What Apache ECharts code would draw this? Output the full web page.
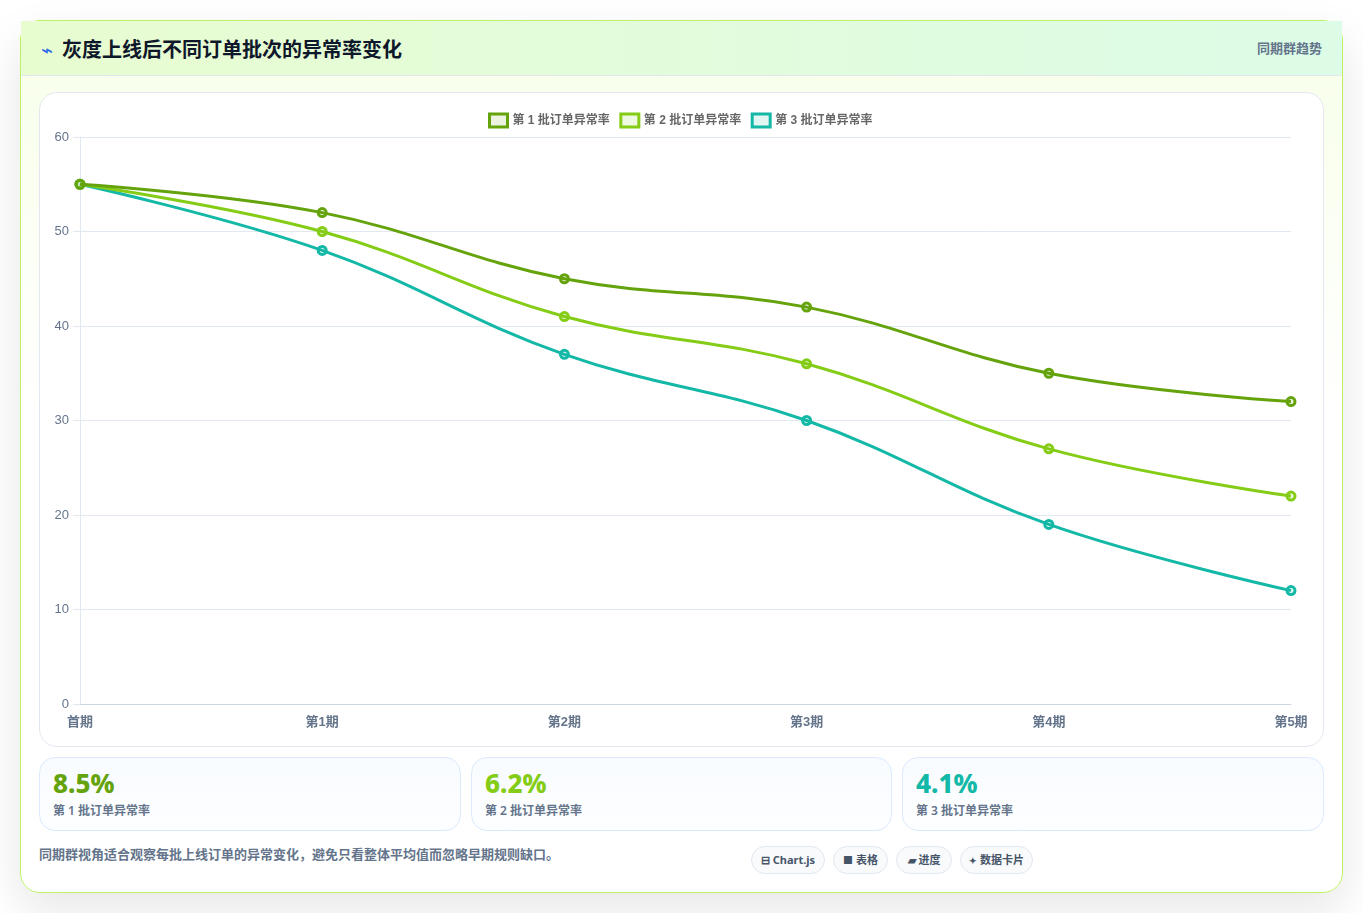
<!DOCTYPE html>
<html lang="zh-CN">
<head>
<meta charset="utf-8">
<title>灰度上线后不同订单批次的异常率变化</title>
<script src="https://cdn.jsdelivr.net/npm/echarts@6/dist/echarts.min.js"></script>
<style>
*{box-sizing:border-box}
html,body{margin:0;padding:0;width:1363px;height:913px;overflow:hidden;background:#fff;
 font-family:"Noto Sans","Noto Sans CJK SC",sans-serif}
.card{position:absolute;left:20px;top:20px;width:1323px;height:873px;border:1px solid #bef264;border-radius:20px;
 background:linear-gradient(180deg,#f7ffe8 0%,#ffffff 45%,#ffffff 100%);box-shadow:0 18px 45px rgba(15,23,42,.10)}
.head{position:absolute;left:21px;top:21px;width:1321px;height:55px;border-bottom:1px solid #e2e8f0;
 background:linear-gradient(90deg,#e8fcd0,#dcfce7)}
.icon{position:absolute;left:41px;top:38px;font-size:20px;line-height:24px;color:#2563eb}
.title{position:absolute;left:62px;top:35px;font-size:20px;line-height:30px;font-weight:700;color:#0f172a;white-space:nowrap}
.tag{position:absolute;right:41px;top:37.5px;font-size:13px;line-height:20px;font-weight:600;color:#64748b;white-space:nowrap}
.chartbox{position:absolute;left:39px;top:92px;width:1285px;height:655px;background:#fff;border:1px solid #e2e8f0;border-radius:18px}
#chart{position:absolute;left:40px;top:93px;width:1283px;height:653px}
.metric{position:absolute;top:757px;height:74px;border:1px solid #dbeafe;border-radius:16px;
 background:linear-gradient(180deg,#f8fbff,#fdfeff)}
.metric b{position:absolute;left:13px;top:7px;font-size:26px;line-height:36px;font-weight:800;white-space:nowrap}
.metric span{position:absolute;left:13px;top:44px;font-size:12px;line-height:18px;font-weight:600;color:#64748b;white-space:nowrap}
.note{position:absolute;left:39px;top:845px;font-size:13px;line-height:18px;font-weight:600;color:#64748b;white-space:nowrap}
.chip{position:absolute;top:846px;height:28px;border:1px solid #e2e8f0;border-radius:14px;background:#f8fafc;
 font-size:11px;line-height:26px;font-weight:700;color:#475569;text-align:center;white-space:nowrap}
</style>
</head>
<body>
<div class="card"></div>
<div class="head"></div>
<div class="icon">⌁</div>
<div class="title">灰度上线后不同订单批次的异常率变化</div>
<div class="tag">同期群趋势</div>
<div class="chartbox"></div>
<div id="chart"></div>
<div id="metrics"></div>
<div class="note">同期群视角适合观察每批上线订单的异常变化，避免只看整体平均值而忽略早期规则缺口。</div>
<div id="chips"></div>
<script>
const categories = ['首期', '第1期', '第2期', '第3期', '第4期', '第5期'];
const seriesNames = ['第 1 批订单异常率', '第 2 批订单异常率', '第 3 批订单异常率'];
const batch1 = [55, 52, 45, 42, 35, 32];
const batch2 = [55, 50, 41, 36, 27, 22];
const batch3 = [55, 48, 37, 30, 19, 12];
const colors = ['#65a30d', '#84cc16', '#14b8a6'];
const tints = ['rgba(101,163,13,0.13)', 'rgba(132,204,22,0.13)', 'rgba(20,184,166,0.13)'];
const metricValues = ['8.5%', '6.2%', '4.1%'];
const chipIcons = ['⊟', '■', '▰', '✦'];
const chipLabels = ['Chart.js', '表格', '进度', '数据卡片'];

const metricBoxes = [[39, 422], [471, 421], [902, 422]];
document.getElementById('metrics').innerHTML = metricValues.map((v, i) =>
  `<div class="metric" style="left:${metricBoxes[i][0]}px;width:${metricBoxes[i][1]}px"><b style="color:${colors[i]}">${v}</b><span>${seriesNames[i]}</span></div>`).join('');
const chipBoxes = [[751, 74], [833, 55], [896, 56], [960, 73]];
const iconSizes = [11, 10, 11, 9];
document.getElementById('chips').innerHTML = chipLabels.map((t, i) =>
  `<div class="chip" style="left:${chipBoxes[i][0]}px;width:${chipBoxes[i][1]}px"><span style="font-size:${iconSizes[i]}px">${chipIcons[i]}</span> ${t}</div>`).join('');

const FONT = '"Liberation Sans","Noto Sans CJK SC",sans-serif';
const values = [batch1, batch2, batch3];
const chart = echarts.init(document.getElementById('chart'), null, {renderer: 'canvas'});
chart.setOption({
  animation: false,
  legend: {
    left: 443, top: 14.5, itemWidth: 18, itemHeight: 13, itemGap: 9.5,
    textStyle: {color: '#666', fontSize: 12, fontWeight: 'bold', fontFamily: FONT},
    data: seriesNames.map((name, i) => ({
      name, icon: 'rect',
      itemStyle: {color: tints[i], borderColor: colors[i], borderWidth: 3}
    }))
  },
  grid: {left: 40, right: 32, top: 44, bottom: 42},
  xAxis: {
    type: 'category', data: categories, boundaryGap: false,
    axisLine: {lineStyle: {color: '#cbd5e1', width: 1}},
    axisTick: {show: false},
    axisLabel: {color: '#64748b', fontSize: 13, fontWeight: 'bold', fontFamily: FONT, margin: 12, showMinLabel: true, showMaxLabel: true, interval: 0},
    splitLine: {show: false}
  },
  yAxis: {
    type: 'value', min: 0, max: 60, interval: 10,
    axisLine: {show: true, lineStyle: {color: '#e2e8f0', width: 1}},
    axisTick: {show: true, length: 7, lineStyle: {color: '#e2e8f0', width: 1}},
    axisLabel: {color: '#64748b', fontSize: 13, fontFamily: FONT, margin: 11},
    splitLine: {show: true, lineStyle: {color: '#e2e8f0', width: 1}}
  },
  series: seriesNames.map((name, i) => ({
    name, type: 'line', data: values[i], smooth: 0.4, clip: false, z: 6 - i,
    symbol: 'circle', symbolSize: 8,
    lineStyle: {color: colors[i], width: 3},
    itemStyle: {color: tints[i], borderColor: colors[i], borderWidth: 3}
  }))
});
</script>
</body>
</html>
